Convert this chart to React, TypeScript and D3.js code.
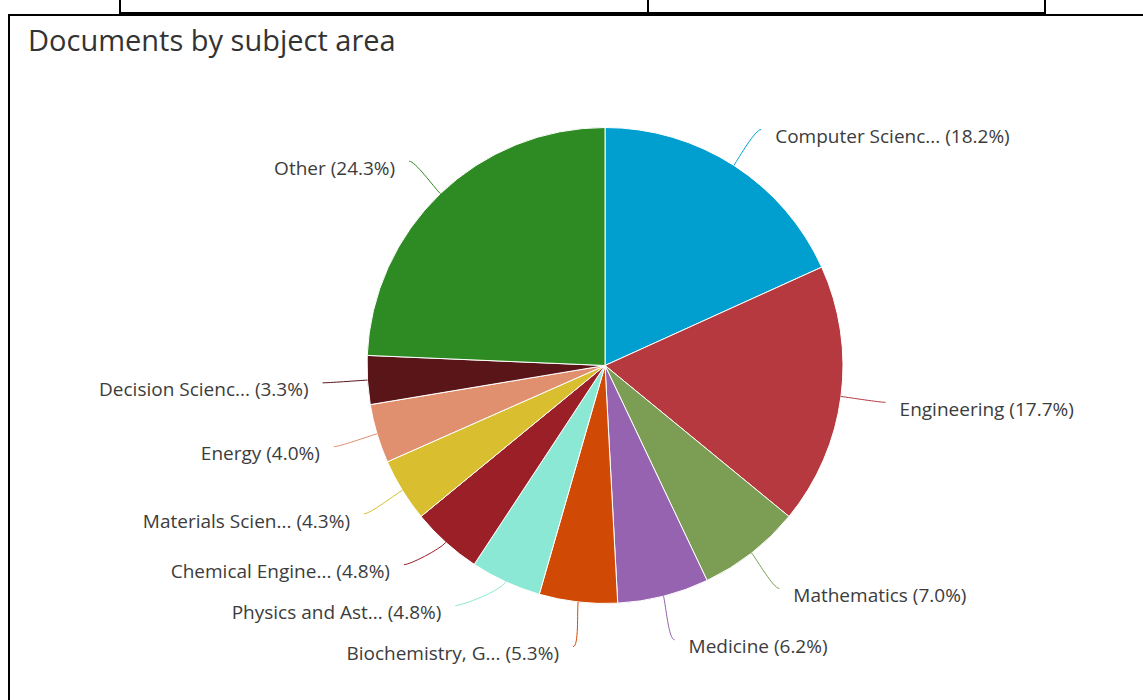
import React, { useEffect, useRef } from "react";
import * as d3 from "d3";

const subjects = [
  "Computer Scienc...",
  "Engineering",
  "Mathematics",
  "Medicine",
  "Biochemistry, G...",
  "Physics and Ast...",
  "Chemical Engine...",
  "Materials Scien...",
  "Energy",
  "Decision Scienc...",
  "Other",
];
const shares = [18.2, 17.7, 7.0, 6.2, 5.3, 4.8, 4.8, 4.3, 4.0, 3.3, 24.3];
const colors = [
  "#009fcf",
  "#b5393f",
  "#7c9e54",
  "#9563b0",
  "#d04a05",
  "#8be8d4",
  "#9a1f27",
  "#d9bf30",
  "#e0906f",
  "#5a1518",
  "#2e8a22",
];

const W = 1143;
const H = 700;

const App: React.FC = () => {
  const svgRef = useRef<SVGSVGElement | null>(null);

  useEffect(() => {
    if (!svgRef.current) return;
    const svg = d3.select(svgRef.current);
    svg.selectAll("*").remove();

    // frame bits from the surrounding page
    const frame = svg.append("g").attr("stroke", "#000").attr("stroke-width", 2).attr("fill", "none");
    frame.append("path").attr("d", "M120,0V13H1045V0M648,0V13");
    frame.append("path").attr("d", "M9,700V15H1143");

    svg
      .append("text")
      .attr("x", 28)
      .attr("y", 51)
      .attr("font-family", "'Open Sans', sans-serif")
      .attr("font-size", 29)
      .attr("fill", "#333")
      .text("Documents by subject area");

    const cx = 605;
    const cy = 365.5;
    const r = 238;
    const labelR = 283;

    const data = subjects.map((name, i) => ({ name, value: shares[i], color: colors[i] }));
    const pie = d3.pie<typeof data[0]>().value((d) => d.value).sort(null);
    const arcs = pie(data);
    const arc = d3.arc<d3.PieArcDatum<typeof data[0]>>().innerRadius(0).outerRadius(r);

    const g = svg.append("g").attr("transform", `translate(${cx},${cy})`);
    g.selectAll("path.slice")
      .data(arcs)
      .enter()
      .append("path")
      .attr("class", "slice")
      .attr("d", arc)
      .attr("fill", (d) => d.data.color)
      .attr("stroke", "#fff")
      .attr("stroke-width", 1)
      .attr("stroke-linejoin", "round");

    // label layout: y at mid angle, pushed apart, x back on the label circle
    const labels = arcs.map((a) => {
      const mid = (a.startAngle + a.endAngle) / 2;
      return {
        a,
        mid,
        right: Math.sin(mid) >= 0,
        y: -labelR * Math.cos(mid),
      };
    });
    const minGap = 41;
    const topLimit = -236;
    [true, false].forEach((side) => {
      const list = labels.filter((l) => l.right === side).sort((p, q) => q.y - p.y);
      for (let i = 1; i < list.length; i++) {
        if (list[i - 1].y - list[i].y < minGap) list[i].y = list[i - 1].y - minGap;
      }
      list.forEach((l) => {
        if (l.y < topLimit) l.y = topLimit;
      });
    });

    const fmt = d3.format(".1f");
    labels.forEach((l) => {
      const dx = Math.sqrt(Math.max(0, labelR * labelR - l.y * l.y));
      const lx = l.right ? dx : -dx;
      const ly = l.y;
      const tx = r * Math.sin(l.mid);
      const ty = -r * Math.cos(l.mid);
      const ox = Math.sin(l.mid) * 10;
      const oy = -Math.cos(l.mid) * 10;
      const hx = l.right ? -6 : 6;
      g.append("path")
        .attr(
          "d",
          `M${tx},${ty}C${tx + ox},${ty + oy} ${lx + hx},${ly} ${lx},${ly}`
        )
        .attr("fill", "none")
        .attr("stroke", l.a.data.color)
        .attr("stroke-width", 1);
      g.append("text")
        .attr("x", l.right ? lx + 14 : lx - 14)
        .attr("y", ly + 7)
        .attr("dy", "0.35em")
        .attr("text-anchor", l.right ? "start" : "end")
        .attr("font-family", "'Open Sans', sans-serif")
        .attr("font-size", 19)
        .attr("fill", "#3c3c3c")
        .text(`${l.a.data.name} (${fmt(l.a.data.value)}%)`);
    });
  }, []);

  return (
    <svg
      ref={svgRef}
      width={W}
      height={H}
      style={{ position: "absolute", left: 0, top: 0, background: "#fff" }}
    />
  );
};

export default App;
